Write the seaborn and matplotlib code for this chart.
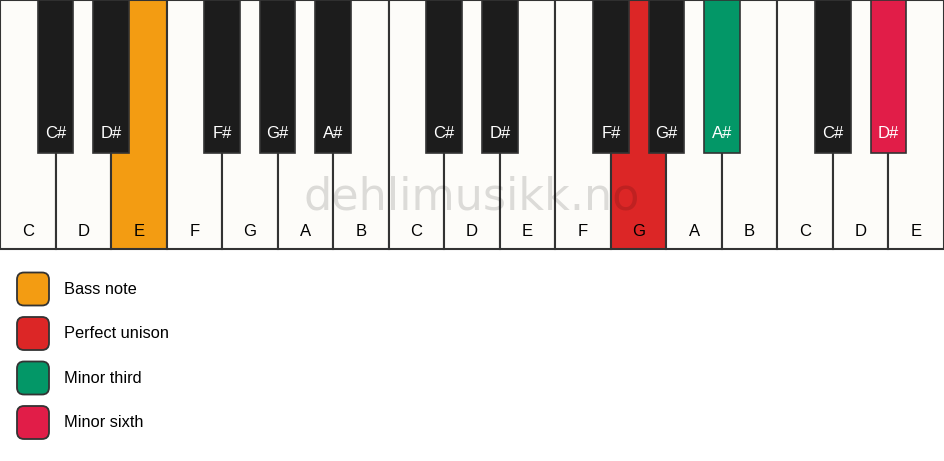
import matplotlib
matplotlib.use('Agg')
import matplotlib.pyplot as plt
import seaborn as sns
import pandas as pd
from matplotlib.patches import FancyBboxPatch

# keyboard content
white_notes = ['C', 'D', 'E', 'F', 'G', 'A', 'B', 'C', 'D', 'E', 'F', 'G', 'A', 'B', 'C', 'D', 'E']
sharp_after = ['C', 'D', 'F', 'G', 'A']

# highlighted keys: note name + octave index
hl_notes = ['E', 'G', 'A#', 'D#']
hl_octave = [0, 1, 1, 2]
hl_labels = ['Bass note', 'Perfect unison', 'Minor third', 'Minor sixth']
hl_colors = ['#F39C12', '#DC2626', '#039767', '#E11D48']

WHITE = '#FDFCF9'
BLACK = '#1C1C1C'
EDGE = '#333333'

sns.set_theme(style='white')
plt.rcParams['font.family'] = ['Liberation Sans', 'DejaVu Sans']

W, H = 944, 461
kb_h = 249
kw = W / len(white_notes)
bk_w = 35.5
bk_h = 153

fig = plt.figure(figsize=(W / 100, H / 100), dpi=100)
fig.patch.set_facecolor('white')
ax = fig.add_axes([0, 0, 1, 1])
ax.set_xlim(0, W)
ax.set_ylim(H, 0)
ax.axis('off')

# build key tables
octave = 0
wrows = []
brows = []
for i, n in enumerate(white_notes):
    if n == 'C' and i > 0:
        octave += 1
    wrows.append({'note': n, 'oct': octave, 'x': (i + 0.5) * kw})
    if n in sharp_after and i < len(white_notes) - 1:
        brows.append({'note': n + '#', 'oct': octave, 'x': (i + 1) * kw})
whites = pd.DataFrame(wrows)
blacks = pd.DataFrame(brows)


def key_color(df, base):
    cols = []
    for _, r in df.iterrows():
        c = base
        for n, o, col in zip(hl_notes, hl_octave, hl_colors):
            if r['note'] == n and r['oct'] == o:
                c = col
        cols.append(c)
    return cols


whites['color'] = key_color(whites, WHITE)
blacks['color'] = key_color(blacks, BLACK)

ax.bar(whites['x'], kb_h, width=kw, bottom=0, color=whites['color'],
       edgecolor=EDGE, linewidth=1.5, zorder=1)
for _, r in whites.iterrows():
    ax.text(r['x'], 231, r['note'], ha='center', va='center', fontsize=12,
            color='black', zorder=5)

# watermark
ax.text(W / 2, 209, 'dehlimusikk.no', fontsize=32, family='DejaVu Sans',
        color='black', alpha=0.13, ha='center', va='baseline', zorder=3)

ax.bar(blacks['x'], bk_h, width=bk_w, bottom=0, color=blacks['color'],
       edgecolor=EDGE, linewidth=1.2, zorder=4)
for _, r in blacks.iterrows():
    ax.text(r['x'], 133, r['note'], ha='center', va='center', fontsize=12,
            color='white', zorder=5)

# legend
for i, (lab, col) in enumerate(zip(hl_labels, hl_colors)):
    yc = 289 + i * 44.5
    box = FancyBboxPatch((17, yc - 16.5), 32, 33,
                         boxstyle='round,pad=0,rounding_size=7',
                         facecolor=col, edgecolor=EDGE, linewidth=1.3, zorder=5)
    ax.add_patch(box)
    ax.text(64, yc, lab, ha='left', va='center', fontsize=11.8, color='black')

plt.savefig('out.png', dpi=100)
